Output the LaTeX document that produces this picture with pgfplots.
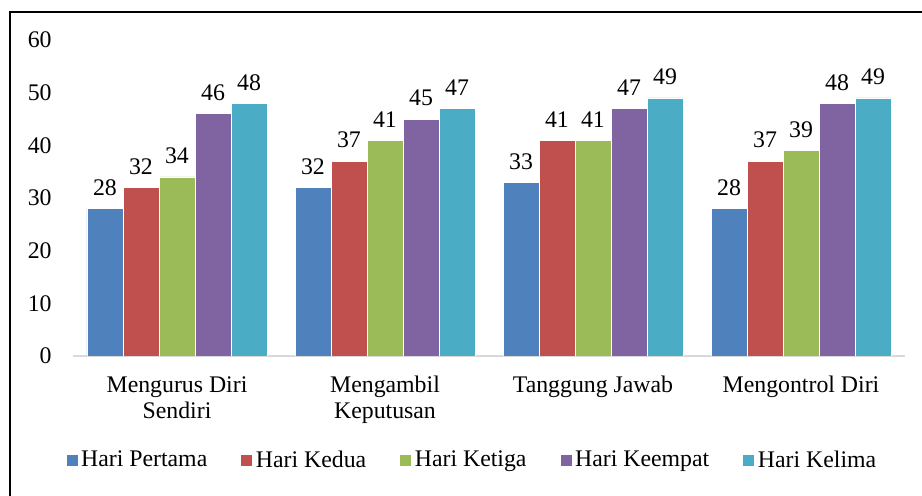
\documentclass[border=0pt]{standalone}
\usepackage{fontspec}
\setmainfont{Liberation Serif}
\usepackage{pgfplots}
\pgfplotsset{compat=1.18}
\definecolor{c1}{HTML}{4F81BD}
\definecolor{c2}{HTML}{C0504D}
\definecolor{c3}{HTML}{9BBB59}
\definecolor{c4}{HTML}{8064A2}
\definecolor{c5}{HTML}{4BACC6}
\definecolor{axisgray}{HTML}{D9D9D9}
\begin{document}
\begin{tikzpicture}
\useasboundingbox (0,0) rectangle (461pt,248pt);
\draw[line width=1.3pt] (5pt,0) -- (5pt,242pt) -- (462pt,242pt);
\begin{axis}[
  at={(36.5pt,70pt)}, anchor=south west,
  scale only axis, width=416pt, height=158pt,
  ybar=0pt, bar width=18pt,
  xmin=-0.5, xmax=3.5, ymin=0, ymax=60,
  xtick={0,1,2,3},
  xticklabels={{Mengurus Diri\\Sendiri},{Mengambil\\Keputusan},{Tanggung Jawab},{Mengontrol Diri}},
  ytick={0,10,20,30,40,50,60},
  major tick length=0pt,
  axis x line*=bottom, axis y line*=left,
  x axis line style={draw=axisgray, line width=0.8pt, -},
  y axis line style={draw=none},
  /pgf/number format/assume math mode=true,
  font=\fontsize{11.9}{13}\selectfont,
  tick label style={font=\fontsize{11.9}{13}\selectfont},
  yticklabel style={anchor=east, inner sep=0pt, xshift=-10.5pt},
  xticklabel style={align=center, anchor=north, inner sep=0pt, yshift=-10pt},
  nodes near coords,
  nodes near coords style={font=\fontsize{11.9}{13}\selectfont, yshift=3pt},
  every axis plot/.append style={draw=white, line width=0.3pt},
  legend columns=5,
  legend style={at={(0.48,-0.33)}, anchor=center, draw=none, fill=none,
    font=\fontsize{11.9}{13}\selectfont,
    /tikz/every even column/.append style={column sep=15pt},
    nodes={inner sep=1.5pt}},
  legend image code/.code={\fill[#1] (0pt,-3pt) rectangle (6pt,3pt);},
]
\addplot[fill=c1] coordinates {(0,28) (1,32) (2,33) (3,28)};
\addplot[fill=c2] coordinates {(0,32) (1,37) (2,41) (3,37)};
\addplot[fill=c3] coordinates {(0,34) (1,41) (2,41) (3,39)};
\addplot[fill=c4] coordinates {(0,46) (1,45) (2,47) (3,48)};
\addplot[fill=c5] coordinates {(0,48) (1,47) (2,49) (3,49)};
\legend{Hari Pertama, Hari Kedua, Hari Ketiga, Hari Keempat, Hari Kelima}
\end{axis}
\end{tikzpicture}
\end{document}
